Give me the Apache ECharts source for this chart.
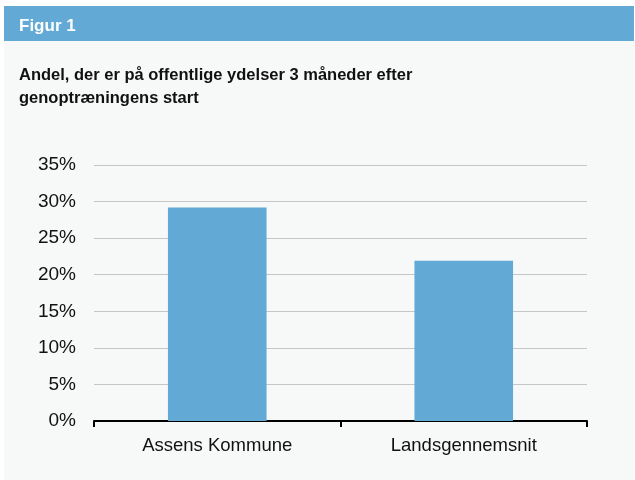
<!DOCTYPE html>
<html>
<head>
<meta charset="utf-8">
<script src="https://cdn.jsdelivr.net/npm/echarts@6/dist/echarts.min.js"></script>
<style>
  html, body { margin: 0; padding: 0; background: #ffffff; }
  #chart { width: 635px; height: 480px; }
</style>
</head>
<body>
<div id="chart"></div>
<script>
const figureLabel = 'Figur 1'
const chartTitle = 'Andel, der er på offentlige ydelser 3 måneder efter\ngenoptræningens start'
const categories = ['Assens Kommune', 'Landsgennemsnit']
const shares = [0.292, 0.219]

const blue = '#63a9d5'
const font = 'Liberation Sans, Arial, Helvetica, sans-serif'

const chart = echarts.init(document.getElementById('chart'))

const option = {
  backgroundColor: '#ffffff',
  animation: false,
  graphic: [
    {
      type: 'rect',
      shape: { x: 4, y: 41, width: 630, height: 439 },
      style: { fill: '#f7f8f8' },
      z: -10
    },
    {
      type: 'rect',
      shape: { x: 4, y: 6, width: 630, height: 35 },
      style: { fill: blue },
      z: -10
    }
  ],
  title: [
    {
      text: figureLabel,
      left: 14,
      top: 13,
      textStyle: { color: '#ffffff', fontFamily: font, fontSize: 17, fontWeight: 'bold' }
    },
    {
      text: chartTitle,
      left: 14,
      top: 59,
      textStyle: { color: '#111111', fontFamily: font, fontSize: 16.5, fontWeight: 'bold', lineHeight: 23 }
    }
  ],
  grid: {
    left: 94,
    right: 48,
    top: 165,
    bottom: 59,
    containLabel: false
  },
  xAxis: {
    type: 'category',
    data: categories,
    axisLine: { lineStyle: { color: '#000000', width: 2 } },
    axisTick: { show: true, length: 6, lineStyle: { color: '#000000', width: 2 } },
    axisLabel: { color: '#111111', fontFamily: font, fontSize: 18.5, margin: 15 }
  },
  yAxis: {
    type: 'value',
    min: 0,
    max: 0.35,
    interval: 0.05,
    axisLine: { show: false },
    axisTick: { show: false },
    splitLine: { lineStyle: { color: '#c6c6c6', width: 1 } },
    axisLabel: {
      color: '#111111',
      fontFamily: font,
      fontSize: 19,
      margin: 18,
      formatter: v => Math.round(v * 100) + '%'
    }
  },
  series: [
    {
      type: 'bar',
      data: shares,
      barWidth: '40%',
      itemStyle: { color: blue }
    }
  ]
}

chart.setOption(option)
</script>
</body>
</html>
